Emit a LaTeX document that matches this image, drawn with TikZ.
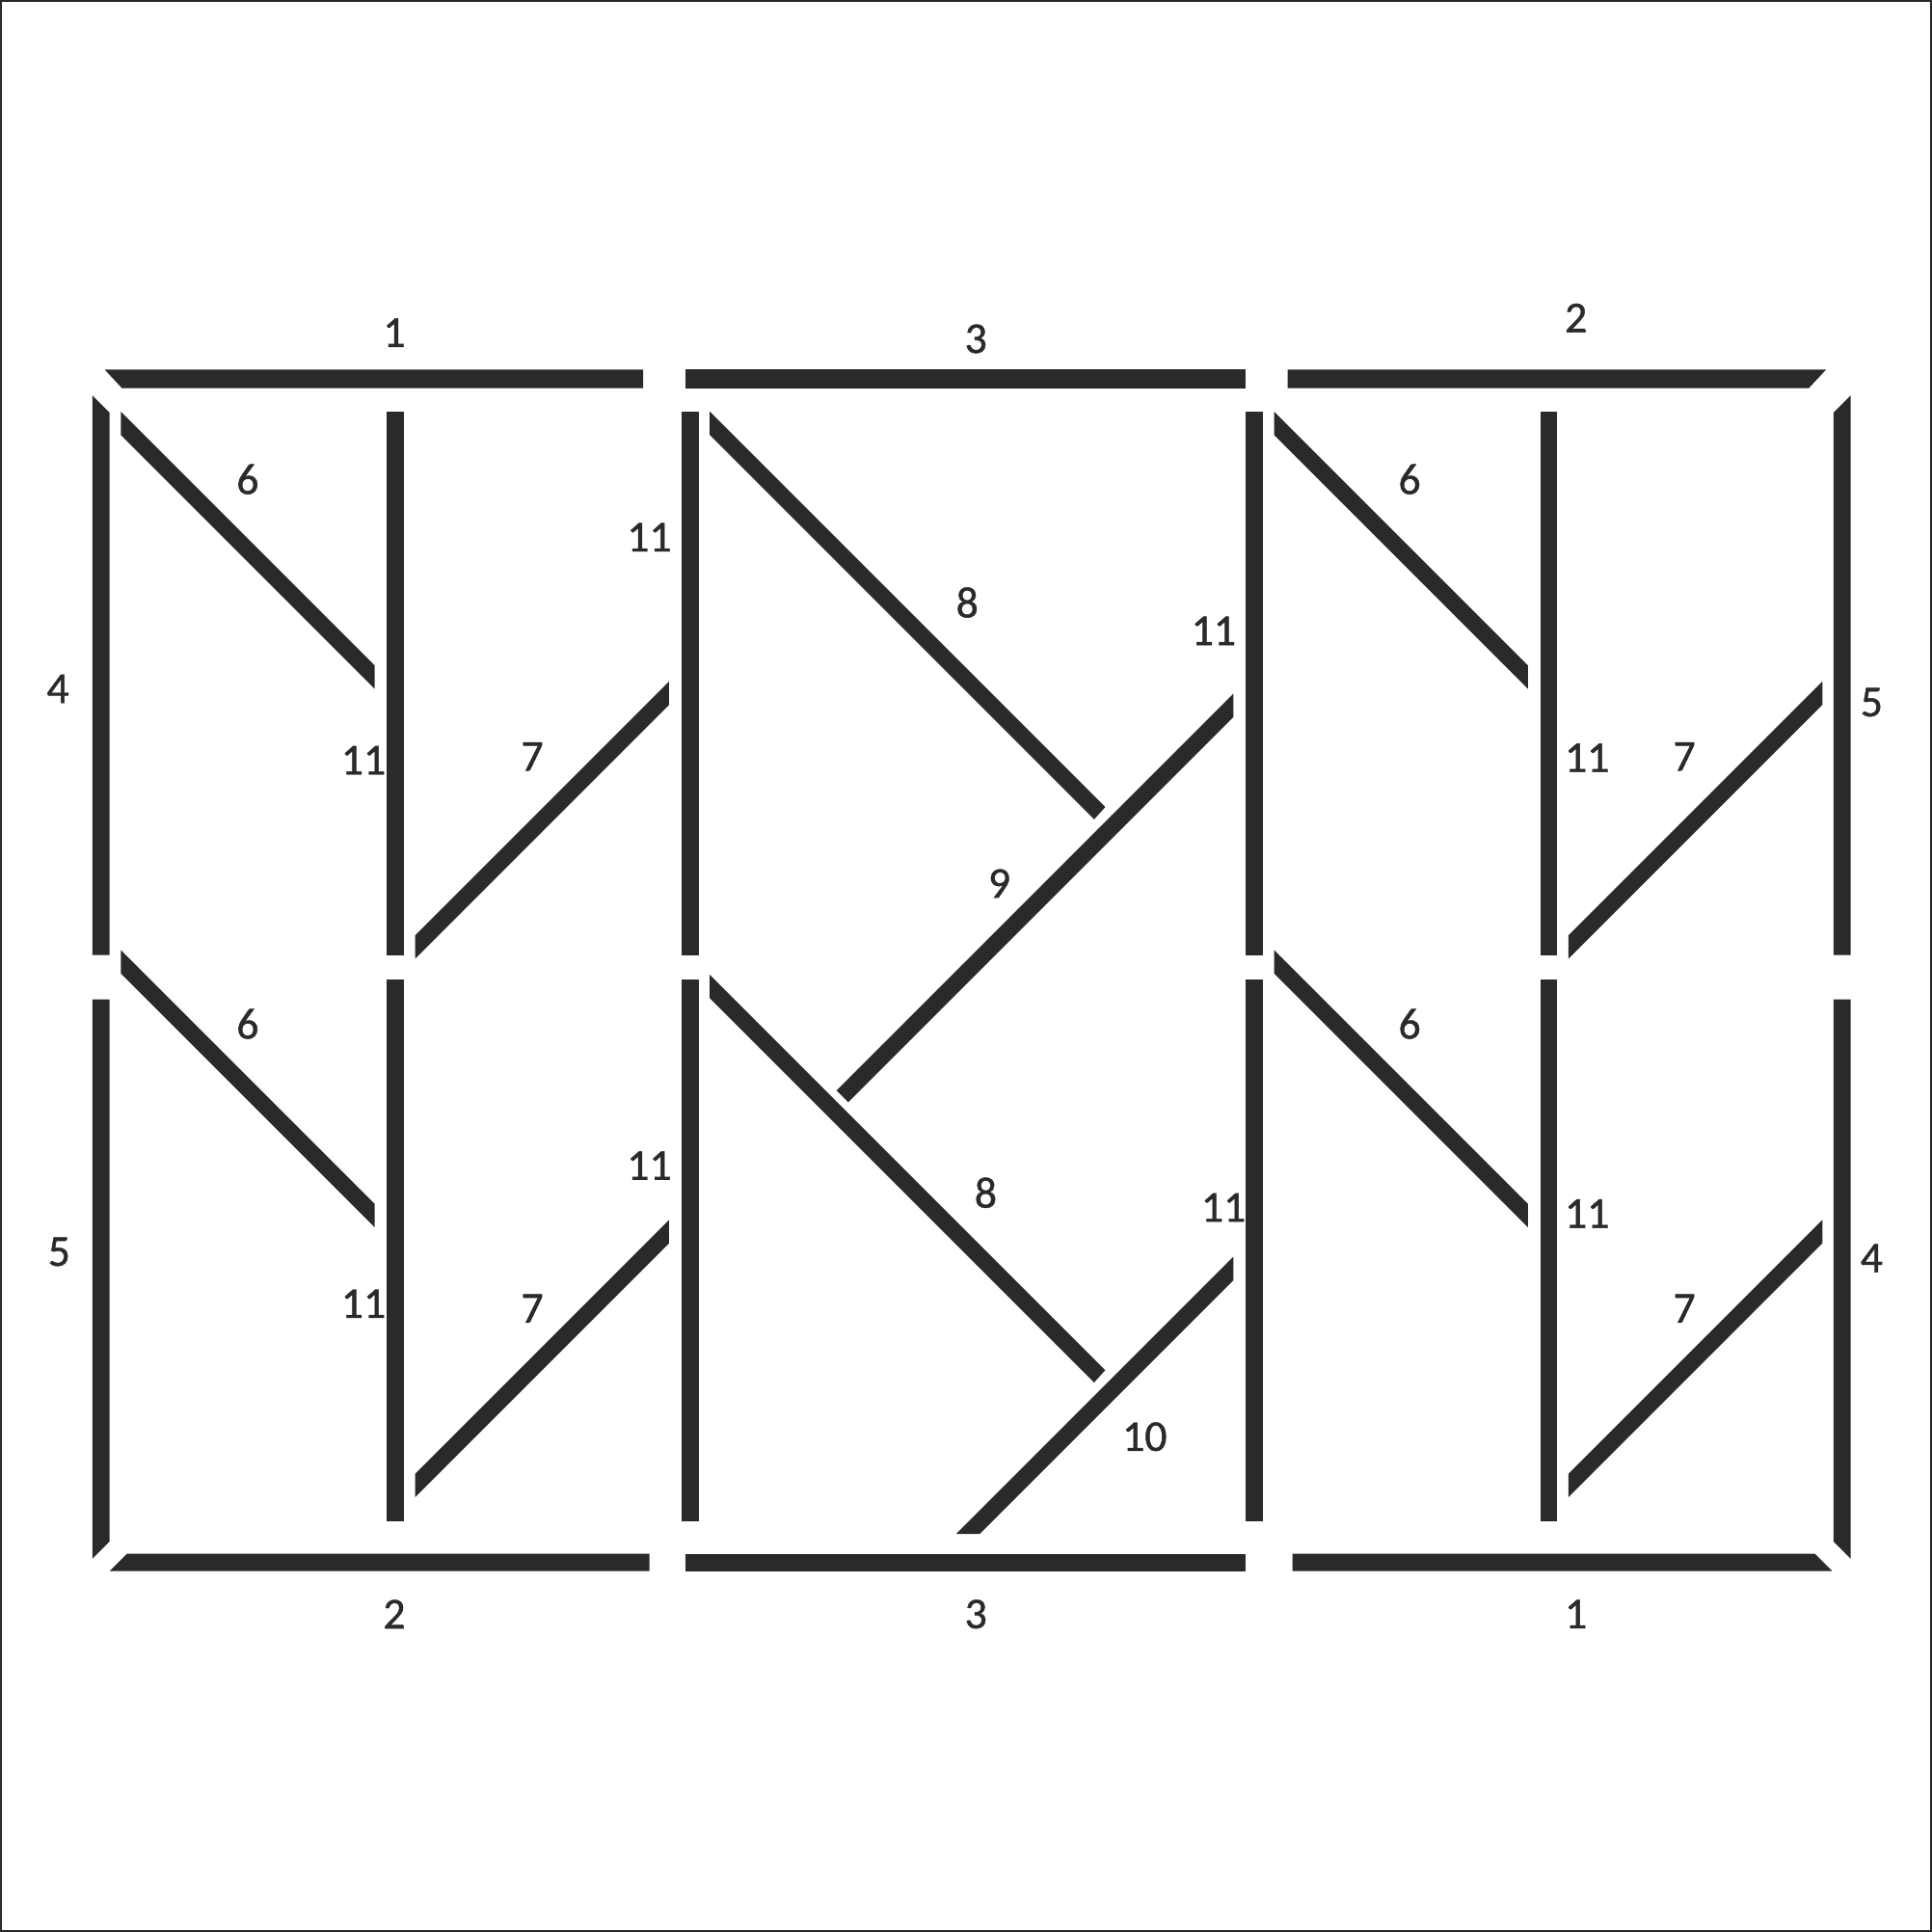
\documentclass[tikz,border=0pt]{standalone}
\usepackage{fontspec}
\setmainfont{Carlito}
\newfontfamily\lblfont{Carlito}[FakeBold=1]
\definecolor{barcol}{RGB}{43,42,41}
\begin{document}
\begin{tikzpicture}[x=0.012781cm, y=-0.012781cm,
        bar/.style={fill=barcol},
        lbl/.style={font=\lblfont\fontsize{13}{15}\selectfont, text=barcol, inner sep=0pt}]
                \useasboundingbox (0,0) rectangle (1568,1568);
                \draw[line width=0.6pt, barcol] (1,1) rectangle (1567,1567);
                % top beams
                \fill[bar] (85,300)--(522,300)--(522,315)--(99,315)--cycle;
                \fill[bar] (556,300) rectangle (1011,315);
                \fill[bar] (1045,300)--(1482,300)--(1468,315)--(1045,315)--cycle;
                % bottom beams
                \fill[bar] (103,1261)--(527,1261)--(527,1275)--(89,1275)--cycle;
                \fill[bar] (556,1261) rectangle (1011,1275);
                \fill[bar] (1049,1261)--(1473,1261)--(1487,1275)--(1049,1275)--cycle;
                % outer posts
                \fill[bar] (75,321)--(89,335)--(89,775)--(75,775)--cycle;
                \fill[bar] (75,811)--(89,811)--(89,1251)--(75,1265)--cycle;
                \fill[bar] (1488,335)--(1502,321)--(1502,775)--(1488,775)--cycle;
                \fill[bar] (1488,811)--(1502,811)--(1502,1265)--(1488,1251)--cycle;
                % inner posts
                \foreach \x in {314,553,1011,1250}{
                    \fill[bar] (\x,334) rectangle (\x+14,775);
                    \fill[bar] (\x,795) rectangle (\x+14,1235);
                }
                % braces 6 and 7
                \foreach \dx in {0,936}
                    \foreach \dy in {0,437}{
                        \fill[bar] (98+\dx,334+\dy)--(304+\dx,540+\dy)--(304+\dx,559+\dy)--(98+\dx,353+\dy)--cycle;
                        \fill[bar] (337+\dx,759+\dy)--(543+\dx,553+\dy)--(543+\dx,572+\dy)--(337+\dx,778+\dy)--cycle;
                    }
                % braces 8, 9, 10
                \fill[bar] (576,334)--(897,655)--(888,665)--(576,353)--cycle;
                \fill[bar] (576,791)--(897,1112)--(888,1122)--(576,810)--cycle;
                \fill[bar] (1001,563)--(1001,582)--(688.5,894.5)--(679,885)--cycle;
                \fill[bar] (1001,1020)--(1001,1039)--(795,1245)--(776,1245)--cycle;
                % labels
                \node[lbl] (t1) at (320,270) {1};
                \node[lbl] (t3) at (792,275) {3};
                \node[lbl] (t2) at (1279,258) {2};
                \node[lbl] (b2) at (320,1310) {2};
                \node[lbl] (b3) at (792,1310) {3};
                \node[lbl] (b1) at (1279,1310) {1};
                \node[lbl] (l4) at (47,559) {4};
                \node[lbl] (l5) at (48,1016) {5};
                \node[lbl] (r5) at (1519,570) {5};
                \node[lbl] (r4) at (1519,1021) {4};
                \node[lbl] (a6) at (201,389) {6};
                \node[lbl] (b6) at (201,831) {6};
                \node[lbl] (c6) at (1144,389) {6};
                \node[lbl] (d6) at (1144,831) {6};
                \node[lbl] (a7) at (432,614) {7};
                \node[lbl] (b7) at (432,1062) {7};
                \node[lbl] (c7) at (1367,614) {7};
                \node[lbl] (d7) at (1367,1062) {7};
                \node[lbl] (a11) at (295,617) {11};
                \node[lbl] (b11) at (295,1058) {11};
                \node[lbl] (c11) at (527,436) {11};
                \node[lbl] (d11) at (527,946) {11};
                \node[lbl] (e11) at (985,512) {11};
                \node[lbl] (f11) at (993,980) {11};
                \node[lbl] (g11) at (1288,615) {11};
                \node[lbl] (h11) at (1288,985) {11};
                \node[lbl] (u8) at (785,489) {8};
                \node[lbl] (v8) at (800,968) {8};
                \node[lbl] (n9) at (811,717) {9};
                \node[lbl] (n10) at (929,1166) {10};
\end{tikzpicture}
\end{document}
